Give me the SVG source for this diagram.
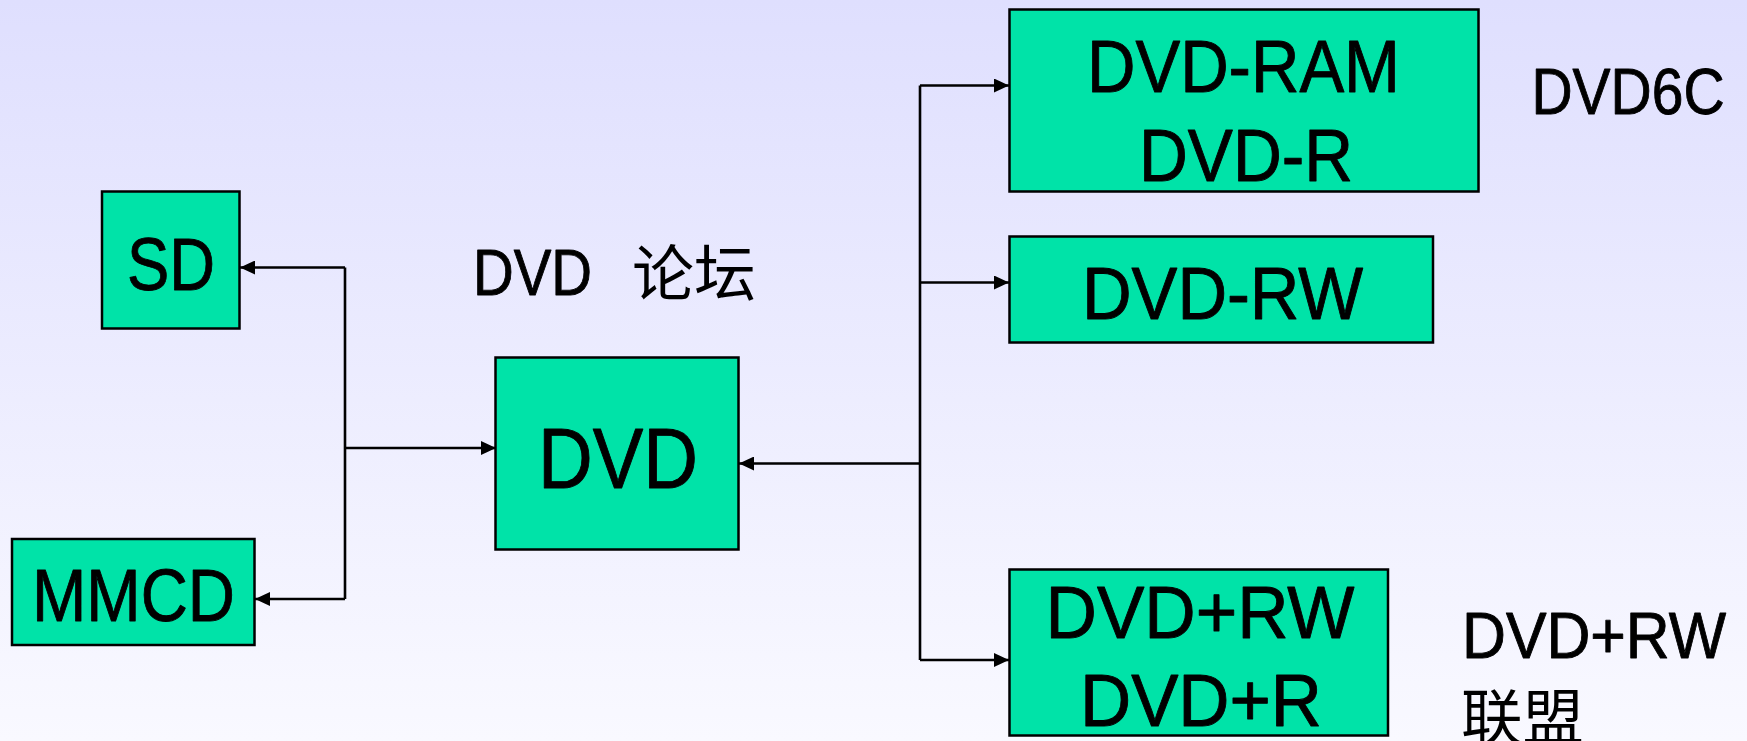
<svg xmlns="http://www.w3.org/2000/svg" width="1747" height="741" viewBox="0 0 1747 741">
<defs>
<linearGradient id="bg" x1="0" y1="0" x2="0" y2="1">
<stop offset="0" stop-color="#DFDFFE"/>
<stop offset="1" stop-color="#F9F9FF"/>
</linearGradient>
<marker id="ah" viewBox="0 0 15 14" refX="15" refY="7" markerWidth="15" markerHeight="14" markerUnits="userSpaceOnUse" orient="auto">
<path d="M0,0 L15,7 L0,14 Z" fill="#000"/>
</marker>
<style>
.box{fill:#00E3A8;stroke:#000;stroke-width:2.5}
.t{font-family:"Liberation Sans","DejaVu Sans",sans-serif;fill:#000;stroke:#000;stroke-width:0.9;stroke-linejoin:round}
.cj{font-family:"Noto Sans CJK SC",sans-serif;fill:#000;font-weight:400}
.c{fill:none;stroke:#000;stroke-width:2.6}
</style>
</defs>
<rect width="1747" height="741" fill="url(#bg)"/>
<g id="connectors">
<path class="c" d="M345,267.5 V599"/>
<path class="c" d="M345,267.5 H240" marker-end="url(#ah)"/>
<path class="c" d="M345,599 H255" marker-end="url(#ah)"/>
<path class="c" d="M345,448 H496" marker-end="url(#ah)"/>
<path class="c" d="M920,85.5 V660"/>
<path class="c" d="M920,463.5 H739" marker-end="url(#ah)"/>
<path class="c" d="M920,85.5 H1009" marker-end="url(#ah)"/>
<path class="c" d="M920,282.5 H1009" marker-end="url(#ah)"/>
<path class="c" d="M920,660 H1009" marker-end="url(#ah)"/>
</g>
<g id="sd">
<rect class="box" x="102" y="191.5" width="137.5" height="137"/>
<text class="t" x="127" y="289.5" font-size="75" textLength="88" lengthAdjust="spacingAndGlyphs">SD</text>
</g>
<g id="mmcd">
<rect class="box" x="12" y="539" width="242.5" height="106"/>
<text class="t" x="32" y="621" font-size="75" textLength="203" lengthAdjust="spacingAndGlyphs">MMCD</text>
</g>
<g id="dvd">
<rect class="box" x="495.5" y="357.5" width="243" height="192"/>
<text class="t" x="538" y="487.5" font-size="85" textLength="160" lengthAdjust="spacingAndGlyphs">DVD</text>
</g>
<g id="dvd-ram">
<rect class="box" x="1009.5" y="9.5" width="469" height="182"/>
<text class="t" x="1087" y="91.5" font-size="75" textLength="313" lengthAdjust="spacingAndGlyphs">DVD-RAM</text>
<text class="t" x="1139" y="180.5" font-size="75" textLength="214" lengthAdjust="spacingAndGlyphs">DVD-R</text>
</g>
<g id="dvd-rw">
<rect class="box" x="1009.5" y="236.5" width="423.5" height="106"/>
<text class="t" x="1082" y="319" font-size="75" textLength="281" lengthAdjust="spacingAndGlyphs">DVD-RW</text>
</g>
<g id="dvd-plus">
<rect class="box" x="1009.5" y="569.5" width="378.5" height="166"/>
<text class="t" x="1045.5" y="637.5" font-size="75" textLength="309" lengthAdjust="spacingAndGlyphs">DVD+RW</text>
<text class="t" x="1080" y="726" font-size="75" textLength="242" lengthAdjust="spacingAndGlyphs">DVD+R</text>
</g>
<g id="labels">
<text class="t" x="473" y="295" font-size="64" textLength="119" lengthAdjust="spacingAndGlyphs">DVD</text>
<text class="cj" x="632" y="296" font-size="61" textLength="124" lengthAdjust="spacingAndGlyphs">论坛</text>
<text class="t" x="1531.5" y="114" font-size="64" textLength="193" lengthAdjust="spacingAndGlyphs">DVD6C</text>
<text class="t" x="1462" y="657.5" font-size="64" textLength="264" lengthAdjust="spacingAndGlyphs">DVD+RW</text>
<text class="cj" x="1461" y="740" font-size="61" textLength="123" lengthAdjust="spacingAndGlyphs">联盟</text>
</g>
</svg>
